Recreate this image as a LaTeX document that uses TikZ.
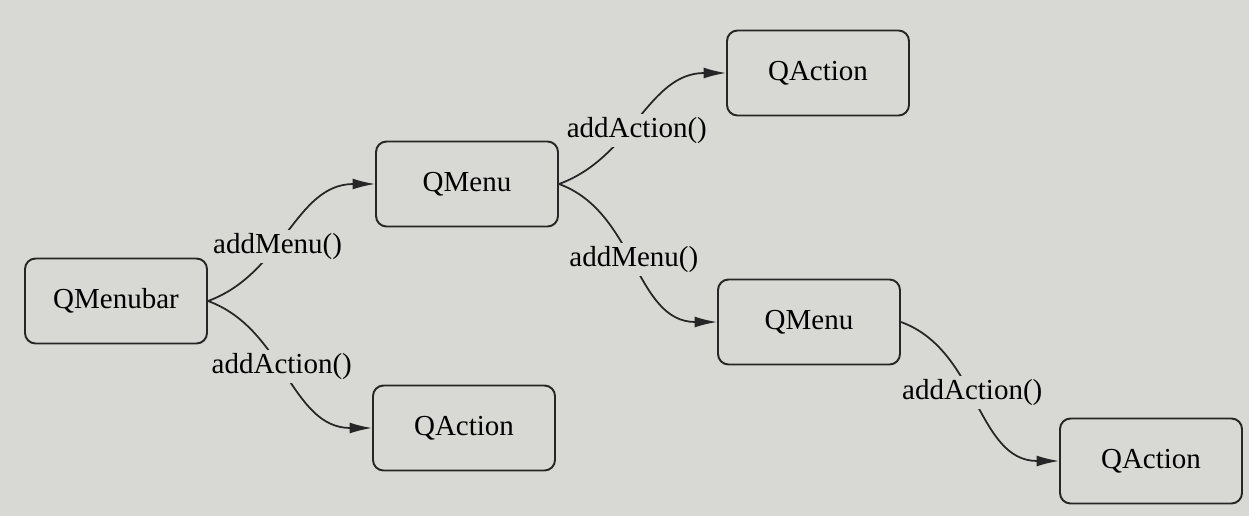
\documentclass[tikz,border=0pt]{standalone}
\usepackage{fontspec}
\setmainfont{Liberation Serif}
\usetikzlibrary{arrows.meta}
\definecolor{paper}{RGB}{216,216,212}
\begin{document}
\begin{tikzpicture}[thick,
    box node/.style={rectangle,rounded corners=6pt,draw=black!85,line width=1.1pt,minimum width=3.64cm,minimum height=1.7cm,font=\fontsize{16.5}{20}\selectfont},
    call/.style={pos=0.45,fill=paper,inner sep=2pt,font=\fontsize{16.5}{20}\selectfont}]
                \fill[paper] (0,0) rectangle (24.98,10.32);
                \useasboundingbox (0,0) rectangle (24.98,10.32);
                \node[box node] at (2.32, 4.30) (bar) {QMenubar};
                \node[box node] at (9.34, 6.64) (menua) {QMenu};
                \node[box node] at (16.36, 8.86) (acta) {QAction};
                \node[box node] at (9.28, 1.76) (actb) {QAction};
                \node[box node] at (16.18, 3.88) (menub) {QMenu};
                \node[box node] at (23.02, 1.10) (actc) {QAction};

                \path[every edge/.style={draw=black!85,line width=1pt,-{Latex[length=4.5mm,width=2.2mm]}}]
                    (bar.east) edge[out=20, in=180] node[call,pos=0.41] {addMenu()} (menua.west)
                    (bar.east) edge[out=-20, in=180] node[call] {addAction()} (actb.west)
                    (menua.east) edge[out=20, in=180] node[call,pos=0.42,xshift=4pt] {addAction()} (acta.west)
                    (menua.east) edge[out=-20, in=180] node[call,pos=0.48] {addMenu()} (menub.west)
                    (menub.east) edge[out=-20, in=180] node[call] {addAction()} (actc.west)
                    ;
            \end{tikzpicture}
\end{document}
